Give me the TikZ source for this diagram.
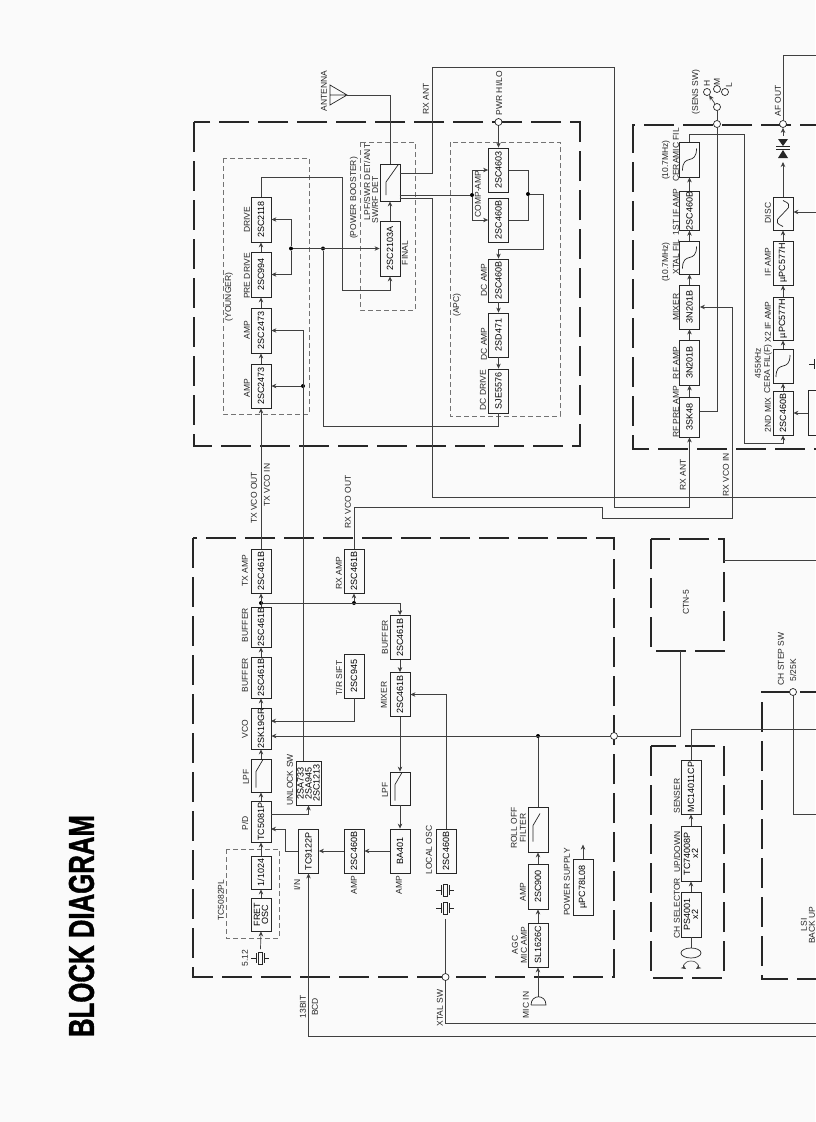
\documentclass[tikz,border=0pt]{standalone}
\usepackage{fontspec}
\usepackage{graphicx}
\usepackage{xcolor}
\setmainfont{Liberation Sans}
\usetikzlibrary{arrows.meta, positioning}

\begin{document}
\begin{tikzpicture}[x=1pt, y=-1pt,
  part/.style={rectangle, draw=black!85, line width=0.8pt, rotate=90,
    minimum width=#1, minimum height=20pt, inner sep=0pt, align=center,
    font=\fontsize{9}{8}\selectfont},
  part/.default=44pt,
  lab/.style={rotate=90, inner sep=0pt, align=center, text=black!85,
    font=\fontsize{8.5}{9}\selectfont},
  panel/.style={draw=black!85, line width=1.3pt, dash pattern=on 30pt off 9pt},
  grp/.style={draw=black!55, line width=0.5pt, dash pattern=on 5pt off 3pt},
  wire/.style={draw=black!75, line width=0.7pt},
  arr/.style={-{Stealth[length=5pt, width=4.5pt]}, draw=black!75, line width=0.7pt},
  sym/.style={draw=black!85, line width=0.7pt},
  term/.style={circle, draw=black!85, fill=white, line width=0.7pt, inner sep=0pt, minimum size=7pt},
  jdot/.style={circle, fill=black, inner sep=0pt, minimum size=4pt},
  xtal/.pic={
    \draw[sym] (-9,0) -- (-4,0) (-4,-5) -- (-4,5) (4,-5) -- (4,5) (4,0) -- (9,0);
    \draw[sym] (-2,-6) rectangle (2,6);
  }
]
\path[use as bounding box, fill=black!2] (0,0) rectangle (815,1122);

%% ==== Panels ====
\draw[panel] (194,122) rectangle (580,446);
\draw[panel] (193,538) rectangle (614,977);
\draw[panel] (830,125) -- (633,125) -- (633,449) -- (830,449);
\draw[panel] (651,746) rectangle (724,978);
\draw[panel] (830,692) -- (762,692) -- (762,979) -- (830,979);
\node[panel, rotate=90, minimum width=112pt, minimum height=73pt, inner sep=0pt] (CT) at (687.5,595) {};
\draw[grp] (223,158) rectangle (309,414);
\draw[grp] (360,142) rectangle (415,310);
\draw[grp] (450,142) rectangle (560,416);
\draw[grp] (226,849) rectangle (279,938);

%% ==== Title ====
\node[rotate=90, inner sep=0pt] (TI) at (81.5,926) {\resizebox{222pt}{25pt}{\bfseries\addfontfeature{FakeBold=1.5} BLOCK DIAGRAM}};

%% ==== Power section ====
\node[part] (A1) at (261,386) {2SC2473};
\node[part=45pt] (A2) at (261,330.5) {2SC2473};
\node[part=45pt] (P1) at (261,274.5) {2SC994};
\node[part=45pt] (D1) at (261,219.5) {2SC2118};
\node[part=55pt] (FN) at (390,248.5) {2SC2103A};
\node[part=37pt] (SW) at (390,182.5) {};
\node[part] (Q1) at (498.5,170) {2SC4603};
\node[part] (Q2) at (498.5,220) {2SC460B};
\node[part=43pt] (Q3) at (498.5,280.5) {2SC460B};
\node[part] (Q4) at (498.5,335) {2SD471};
\node[part] (Q5) at (498.5,391) {SJE5576};

%% ==== Transmit synth section ====
\node[part] (TA) at (261,571) {2SC461B};
\node[part=40pt] (B1) at (261,627) {2SC461B};
\node[part=41pt] (B2) at (261,677.5) {2SC461B};
\node[part=41pt] (VC) at (261,728.5) {2SK19GR};
\node[part=33pt] (LP) at (261,775.5) {};
\node[part=41pt] (PD) at (261,821.5) {TC5081P};
\node[part=33pt] (DV) at (261,872.5) {1/1024};
\node[part=33pt] (FO) at (261,914.5) {FRET\\OSC};
\node[part] (RA) at (354,571) {2SC461B};
\node[part] (TR) at (354,676) {2SC945};
\node[part] (B3) at (400,637.5) {2SC461B};
\node[part] (MI) at (400,694.5) {2SC461B};
\node[part=33pt] (L2) at (400,788.5) {};
\node[part] (BA) at (400,851) {BA401};
\node[part] (A8) at (354,851) {2SC460B};
\node[part] (T9) at (308.5,851) {TC9122P};
\node[part, minimum height=25pt] (UL) at (308.5,783) {2SA733\\2SA945\\2SC1213};
\node[part] (LO) at (446,851) {2SC460B};
\node[part=45pt] (RO) at (538,829.5) {};
\node[part=45pt] (A9) at (538,886.5) {2SC900};
\node[part] (SL) at (538,945) {SL1626C};
\node[part=56pt] (PW) at (583,887) {µPC78L08};

%% ==== Receive section ====
\node[part=40pt] (RP) at (689.5,417) {3SK48};
\node[part=45pt] (RF) at (689.5,362.5) {3N201B};
\node[part] (MX) at (689.5,307) {3N201B};
\node[part=33pt] (XF) at (689.5,257.5) {};
\node[part=38pt] (I1) at (689.5,211) {2SC460B};
\node[part=35pt] (CF) at (689.5,159.5) {};
\node[part] (M2) at (783,413) {2SC460B};
\node[part=34pt] (CE) at (783,366) {};
\node[part=43pt] (U1) at (783,318.5) {µPC577H};
\node[part] (U2) at (783,263) {µPC577H};
\node[part=33pt] (DS) at (783,213.5) {};
\node[part=45pt, minimum height=44pt] (M3) at (830,413) {};

%% ==== Channel selector ====
\node[part=54pt] (SE) at (691,787) {MC14011CP};
\node[part=55pt] (TC) at (691,853.5) {TC74008P\\x2};
\node[part=45pt] (PS) at (691,914.5) {PS4001\\x2};

%% ==== Terminals and joints ====
\node[term] (TP) at (498.5,122) {};
\node[term] (TV) at (614,736) {};
\node[term] (TX) at (445.5,977) {};
\node[term] (TC1) at (717,124) {};
\node[term] (TC2) at (717,107) {};
\node[term] (TH) at (707,92) {};
\node[term] (TM) at (717,89) {};
\node[term] (TL) at (725,92) {};
\node[term] (TF) at (783,124) {};
\node[term] (TS) at (793,692) {};
\node[jdot] (JD) at (291,248.5) {};
\node[jdot] (JF) at (323,248.5) {};
\node[jdot] (JT) at (303,386) {};
\node[jdot] (JC) at (472,195) {};
\node[jdot] (JR) at (528,194) {};
\node[jdot] (JB) at (261,603) {};
\node[jdot] (JA) at (354,603) {};
\node[jdot] (JV) at (538,736) {};
\coordinate (S1) at (399.5,173);
\coordinate (S2) at (399.5,195);
\coordinate (S3) at (399.5,198);
\coordinate (UO) at (303,761);
\coordinate (AT) at (347,95);
\coordinate (XE) at (816,1023);
\coordinate (BE) at (816,1036);
\coordinate (XS) at (445.5,919);
\coordinate (FI) at (260.5,949);
\coordinate (MC) at (538,997);
\coordinate (PU) at (271,814);
\coordinate (PI) at (271,829);
\coordinate (VA) at (271,721);
\coordinate (R1) at (699.5,411);
\coordinate (C1) at (724,560);
\coordinate (C2) at (680,651);
\coordinate (D1a) at (783,162);
\coordinate (D1b) at (783,136);

%% ==== Chains ====
\foreach \a/\b in {A1/A2, A2/P1, P1/D1, FN/SW, Q3/Q4, Q4/Q5, TA/A1, B1/TA, B2/B1, VC/B2,
  LP/VC, PD/LP, DV/PD, FO/DV, JA/RA, B3/MI, MI/L2, L2/BA, BA/A8, A8/T9,
  SL/A9, A9/RO, RP/RF, RF/MX, MX/XF, XF/I1, I1/CF, M2/CE, CE/U1, U1/U2, U2/DS,
  PS/TC, TC/SE, M3/M2}
  \draw[arr] (\a)--(\b);

%% ==== Power wiring ====
\draw[wire] (SW.east) |- (AT);
\draw[arr] (S1) -| (432,67) -- (614,67) -- (614,507) -| (RP.west);
\draw[wire] (S3) -| (432,497) -- (816,497);
\draw[wire] (S2) -- (JC);
\draw[arr] (JC) |- (Q1.north);
\draw[arr] (JC) |- (Q2.north);
\draw[wire] (Q1.south) -| (JR) |- (Q2.south);
\draw[arr] (JR) -| (543,249) -| (Q3.east);
\draw[arr] (TP) -- (Q1.east);
\draw[wire] (Q5.west) |- (323,426) -- (JF);
\draw[arr] (JD) |- (P1.south);
\draw[arr] (JD) |- (D1.south);
\draw[arr] (JD) -- (FN.north);
\draw[arr] (D1.east) |- (342,177) -- (342,290) -| (FN.west);
\draw[arr] (UO) |- (A2.south);
\draw[arr] (JT) -- (A1.south);

%% ==== Synth wiring ====
\draw[arr] (JB) -| (B3.east);
\draw[arr] (RA.east) |- (602,507) |- (732,518) |- (MX.south);
\draw[arr] (TR.west) |- (VA);
\draw[arr] (TV) -- (TV -| VC.south);
\draw[wire] (RO.east) -- (JV);
\draw[arr] (LO.east) |- (MI.south);
\draw[arr] (PU) -| (UL.west);
\draw[arr] (T9.north) -| (285,829) -- (PI);
\draw[arr] (BE) -| (T9.west);
\draw[wire] (XS) -- (TX);
\draw[wire] (TX) |- (XE);
\draw[arr] (FI) -- (FO.west);
\draw[arr] (MC) -- (SL.west);
\draw[arr] (PW.east) -- ++(0,-14);
\draw[wire] (TV) -| (C2);
\draw[wire] (C1) -- (816,560);

%% ==== Receive wiring ====
\draw[wire] (CF.east) |- (744,134) -- (744,443);
\draw[arr] (744,443) -| (M2.west);
\draw[wire] (R1) -| (TC1);
\draw[wire] (TC1) -- (TC2);
\draw[arr] (TC2) -- (TH);
\draw[wire] (TF) |- (816,55);
\draw[arr] (DS) -- (D1a);
\draw[arr] (D1b) -- (TF);
\draw[arr] (816,212) -- (DS.south |- 816,212);

%% ==== Channel wiring ====
\draw[wire] (SE.east) |- (816,729);
\draw[wire] (PS.west) -- (691,948);
\draw[wire] (TS) |- (816,814);

%% ==== Symbols ====
\foreach \b in {LP,L2,RO}
  \draw[sym] (\b.center) ++(-5,12) -- ++(0,-16) -- ++(7,-12);
\draw[sym] (SW.center) ++(-4,12.5) -- ++(0,-13) -- ++(12,-17);
\foreach \b in {XF,CF,CE}
  \draw[sym] (\b.center) ++(-7,11) .. controls +(0,-18) and +(0,18) .. ++(14,-22);
\draw[sym] (DS.center) ++(0,13) .. controls +(-12,-5) and +(-3,4) .. ++(0,-13)
  .. controls +(3,-4) and +(12,5) .. ++(0,-13);
\pic at (260,958) {xtal};
\pic at (445,890) {xtal};
\pic at (445,908) {xtal};
\pic at (818,364) {xtal};
\draw[sym] (330,85) -- (347,95) -- (330,105) -- cycle (330,95) -- (347,95);
\draw[sym] (531,1005) -- (546,1005) .. controls (546,994) and (531,994) .. (531,1005);
\draw[sym] (691,953) ellipse [x radius=10pt, y radius=5pt];
\draw[arr, line width=0.6pt] (691,961) .. controls (684,961) and (683,967) .. (686,969);
\draw[arr, line width=0.6pt] (691,961) .. controls (698,961) and (699,967) .. (696,969);
\fill[black!85] (778,139) -- (788,139) -- (783,146) -- cycle;
\draw[sym] (776,146.5) -- (790,146.5);
\fill[black!85] (778,158) -- (788,158) -- (783,150) -- cycle;
\draw[sym] (776,149.5) -- (790,149.5);

%% ==== Labels, power section ====
\node[lab] (l1) at (324,91) {ANTENNA};
\node[lab] (l2) at (426,99) {RX ANT};
\node[lab] (l3) at (499,93) {PWR HI/LO};
\node[lab] (l4) at (247,388) {AMP};
\node[lab] (l5) at (247,330) {AMP};
\node[lab] (l6) at (247,276) {PRE DRIVE};
\node[lab] (l7) at (247,220) {DRIVE};
\node[lab] (l8) at (229,297) {(YOUNGER)};
\node[lab] (l9) at (354,198) {(POWER BOOSTER)};
\node[lab] (l10) at (367,182) {LPF/SWR DET/ANT};
\node[lab] (l11) at (375,200) {SW/RF DET};
\node[lab] (l12) at (405,253) {FINAL};
\node[lab] (l13) at (457,305) {(APC)};
\node[lab] (l14) at (478,194) {COMP-AMP};
\node[lab] (l15) at (484,280) {DC AMP};
\node[lab] (l16) at (484,344) {DC AMP};
\node[lab] (l17) at (483,390) {DC DRIVE};

%% ==== Labels, synth section ====
\node[lab] (l18) at (254,498) {TX VCO OUT};
\node[lab] (l19) at (267,485) {TX VCO IN};
\node[lab] (l20) at (348,502) {RX VCO OUT};
\node[lab] (l21) at (245,571) {TX AMP};
\node[lab] (l22) at (245,625) {BUFFER};
\node[lab] (l23) at (245,675) {BUFFER};
\node[lab] (l24) at (245,729) {VCO};
\node[lab] (l25) at (246,777) {LPF};
\node[lab] (l26) at (245,823) {P/D};
\node[lab] (l27) at (221,900) {TC5082PL};
\node[lab] (l28) at (245,958) {5.12};
\node[lab] (l29) at (339,573) {RX AMP};
\node[lab] (l30) at (339,678) {T/R SIFT};
\node[lab] (l31) at (290,780) {UNLOCK SW};
\node[lab] (l32) at (385,637) {BUFFER};
\node[lab] (l33) at (384,695) {MIXER};
\node[lab] (l34) at (385,790) {LPF};
\node[lab] (l35) at (297,885) {I/N};
\node[lab] (l36) at (354,885) {AMP};
\node[lab] (l37) at (399,885) {AMP};
\node[lab] (l38) at (429,850) {LOCAL OSC};
\node[lab] (l39) at (518.5,828) {ROLL OFF\\FILTER};
\node[lab] (l40) at (523,892) {AMP};
\node[lab] (l41) at (519.5,945) {AGC\\MIC AMP};
\node[lab] (l42) at (567,882) {POWER SUPPLY};
\node[lab] (l43) at (526,1005) {MIC IN};
\node[lab] (l44) at (440,1008) {XTAL SW};
\node[lab] (l45) at (303,1007) {13BIT};
\node[lab] (l46) at (315,1007) {BCD};

%% ==== Labels, receive section ====
\node[lab] (l47) at (696,92) {(SENS SW)};
\node[lab] (l48) at (707,83) {H};
\node[lab] (l49) at (717,82) {M};
\node[lab] (l50) at (729,85) {L};
\node[lab] (l51) at (778,101) {AF OUT};
\node[lab] (l52) at (676,412) {RF PRE AMP};
\node[lab] (l53) at (676,363) {RF AMP};
\node[lab] (l54) at (676,307) {MIXER};
\node[lab] (l55) at (676,257) {XTAL FIL};
\node[lab] (l56) at (666,262) {(10.7MHz)};
\node[lab] (l57) at (676,212) {1ST IF AMP};
\node[lab] (l58) at (676,155) {CERAMIC FIL};
\node[lab] (l59) at (666,160) {(10.7MHz)};
\node[lab] (l60) at (768,415) {2ND MIX};
\node[lab] (l61) at (768,369) {CERA FIL(F)};
\node[lab] (l62) at (758,363) {455KHz};
\node[lab] (l63) at (768,322) {X2 IF AMP};
\node[lab] (l64) at (768,262) {IF AMP};
\node[lab] (l65) at (768,213) {DISC};
\node[lab] (l66) at (683,475) {RX ANT};
\node[lab] (l67) at (726,475) {RX VCO IN};

%% ==== Labels, lower right ====
\node[lab] (l68) at (686,602) {CTN-5};
\node[lab] (l69) at (677,796) {SENSER};
\node[lab] (l70) at (677,852) {UP/DOWN};
\node[lab] (l71) at (677,908) {CH SELECTOR};
\node[lab] (l72) at (781,659) {CH STEP SW};
\node[lab] (l73) at (793,670) {5/25K};
\node[lab] (l74) at (804,925) {LSI};
\node[lab] (l75) at (812,925) {BACK UP};

\end{tikzpicture}
\end{document}
